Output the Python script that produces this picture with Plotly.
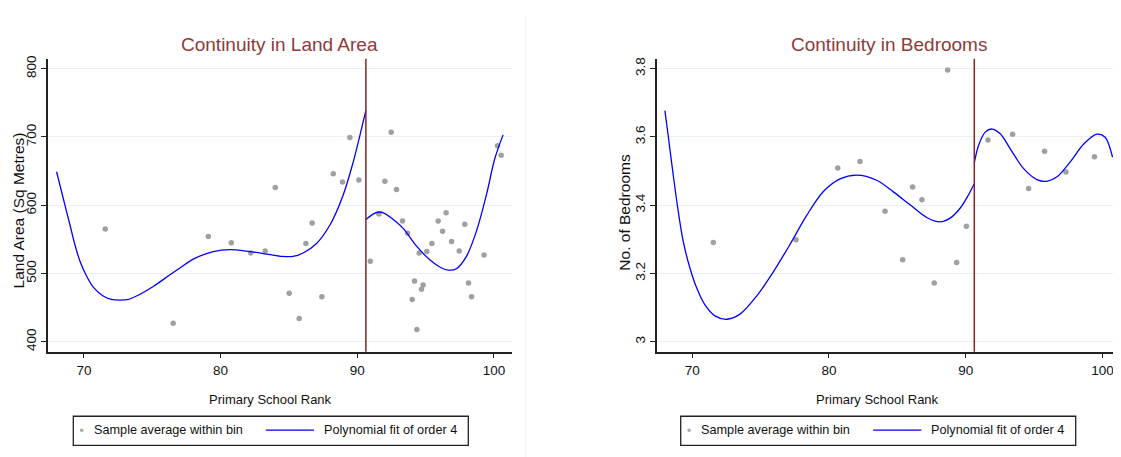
import plotly.graph_objects as go

# The page body has an 8px margin; the figure is sized to fill the rest of the window.
PAGE_W, PAGE_H, OFF = 1121, 457, 8
W, H = PAGE_W - OFF, PAGE_H - OFF
FONT = "Liberation Sans, Arial, sans-serif"

# ---------------- data: Land Area panel ----------------
land_bin_x = [71.56, 76.53, 79.10, 80.78, 82.20, 83.26, 84.00, 85.02, 85.75, 86.24,
              86.70, 87.41, 88.24, 88.92, 89.46, 90.12, 90.95, 91.58, 92.02, 92.48,
              92.87, 93.31, 93.68, 94.02, 94.19, 94.36, 94.53, 94.70, 94.82, 95.09,
              95.46, 95.92, 96.24, 96.50, 96.90, 97.46, 97.87, 98.14, 98.36, 99.28,
              100.26, 100.53]
land_bin_y = [565, 427, 554, 545, 530, 533, 626, 471, 434, 544,
              574, 466, 646, 634, 699, 637, 518, 587, 635, 707,
              623, 577, 559, 462, 489, 418, 530, 477, 483, 532,
              544, 577, 562, 589, 547, 533, 572, 486, 466, 527,
              687, 673]
land_fitL_x = [68.00, 68.61, 68.98, 69.34, 69.71, 70.20, 70.68, 71.41, 72.00, 72.63,
               73.25, 73.85, 75.07, 76.29, 77.02, 78.00, 79.46, 80.68, 82.14, 83.50,
               84.50, 85.30, 86.04, 87.02, 88.00, 88.97, 89.70, 90.19, 90.63]
land_fitL_y = [649, 600, 571, 542, 518, 496, 480, 467, 462, 461,
               462, 467, 481, 498, 508, 521, 532, 535, 532, 528,
               525, 525, 530, 544, 571, 615, 663, 702, 739]
land_fitR_x = [90.63, 91.16, 91.58, 92.00, 92.38, 93.36, 94.34, 95.31, 96.17, 96.65,
               97.26, 97.99, 98.72, 99.45, 100.06, 100.67]
land_fitR_y = [579, 587, 590, 588, 583, 566, 540, 520, 508, 505,
               507, 525, 562, 615, 668, 703]

# ---------------- data: Bedrooms panel ----------------
bed_bin_x = [71.54, 77.59, 80.64, 82.27, 84.10, 85.39, 86.12, 86.80, 87.70, 88.68,
             89.34, 90.05, 91.63, 93.43, 94.60, 95.77, 97.33, 99.42]
bed_bin_y = [3.291, 3.299, 3.509, 3.528, 3.382, 3.240, 3.453, 3.416, 3.172, 3.796,
             3.232, 3.338, 3.591, 3.608, 3.449, 3.558, 3.497, 3.542]
bed_fitL_x = [68.00, 68.24, 68.61, 68.98, 69.34, 69.83, 70.32, 70.93, 71.66, 72.52,
              73.49, 74.71, 75.93, 77.15, 78.37, 79.59, 80.81, 82.03, 83.49, 84.71,
              85.93, 87.15, 88.12, 88.86, 89.59, 90.20, 90.63]
bed_fitL_y = [3.677, 3.604, 3.488, 3.381, 3.294, 3.216, 3.158, 3.108, 3.076, 3.066,
              3.081, 3.134, 3.205, 3.285, 3.370, 3.440, 3.477, 3.488, 3.473, 3.439,
              3.401, 3.364, 3.351, 3.362, 3.391, 3.430, 3.463]
bed_fitR_x = [90.63, 90.94, 91.43, 91.92, 92.53, 93.26, 94.24, 95.21, 95.94, 96.68,
              97.65, 98.63, 99.60, 100.20, 100.74]
bed_fitR_y = [3.524, 3.575, 3.614, 3.623, 3.609, 3.565, 3.507, 3.475, 3.470, 3.483,
              3.527, 3.579, 3.608, 3.599, 3.541]

cutoff = 90.63
x_ticks = [70, 80, 90, 100]
land_ticks = [400, 500, 600, 700, 800]
bed_ticks = [3.0, 3.2, 3.4, 3.6, 3.8]
bed_tick_text = ["3", "3.2", "3.4", "3.6", "3.8"]

titles = ["Continuity in Land Area", "Continuity in Bedrooms"]
ytitles = ["Land Area (Sq Metres)", "No. of Bedrooms"]
xtitle = "Primary School Rank"
leg_points = "Sample average within bin"
leg_fit = "Polynomial fit of order 4"

# ---------------- styles ----------------
PT_COLOR = "#a0a0a0"
FIT_COLOR = "#0000ff"
CUT_COLOR = "#8b2323"
TITLE_COLOR = "#8e3a3a"
GRID_COLOR = "#e9f0f2"
TXT = "#111111"


def px(x):
    return (x - OFF) / W


def py(y):
    return 1 - (y - OFF) / H


fig = go.Figure()

panels = [
    dict(xa="x", ya="y", bx=land_bin_x, by=land_bin_y,
         fl=(land_fitL_x, land_fitL_y), fr=(land_fitR_x, land_fitR_y)),
    dict(xa="x2", ya="y2", bx=bed_bin_x, by=bed_bin_y,
         fl=(bed_fitL_x, bed_fitL_y), fr=(bed_fitR_x, bed_fitR_y)),
]

for p in panels:
    fig.add_trace(go.Scatter(x=p["bx"], y=p["by"], mode="markers", xaxis=p["xa"], yaxis=p["ya"],
                             marker=dict(color=PT_COLOR, size=5.5), name=leg_points,
                             showlegend=False))
    for fx, fy in (p["fl"], p["fr"]):
        fig.add_trace(go.Scatter(x=fx, y=fy, mode="lines", xaxis=p["xa"], yaxis=p["ya"],
                                 line=dict(color=FIT_COLOR, width=1.3, shape="spline",
                                           smoothing=0.9),
                                 name=leg_fit, showlegend=False))

# plot areas (page pixels)
L_X0, L_X1 = 48, 511.7
R_X0, R_X1 = 656.7, 1121
Y_TOP, Y_BOT = 56, 351

axis_common = dict(showline=True, linecolor="#222", linewidth=1.5, ticks="outside",
                   ticklen=5, tickcolor="#222", tickwidth=1.2, zeroline=False,
                   tickfont=dict(family=FONT, size=13.5, color=TXT))

fig.update_layout(
    width=W, height=H, margin=dict(l=0, r=0, t=0, b=0),
    paper_bgcolor="white", plot_bgcolor="white", showlegend=False,
    xaxis=dict(domain=[px(L_X0), px(L_X1)], range=[67.37, 101.3], tickvals=x_ticks,
               showgrid=False, anchor="y", **axis_common),
    yaxis=dict(domain=[py(Y_BOT), py(Y_TOP)], range=[385.4, 814.6], tickvals=land_ticks,
               showgrid=True, gridcolor=GRID_COLOR, gridwidth=1, tickangle=-90, anchor="x",
               **axis_common),
    xaxis2=dict(domain=[px(R_X0), min(px(R_X1), 1.0)], range=[67.4, 101.36], tickvals=x_ticks,
                showgrid=False, anchor="y2", **axis_common),
    yaxis2=dict(domain=[py(Y_BOT), py(Y_TOP)], range=[2.971, 3.829], tickvals=bed_ticks,
                ticktext=bed_tick_text, showgrid=True, gridcolor=GRID_COLOR, gridwidth=1,
                tickangle=-90, anchor="x2", **axis_common),
)

shapes = []
# cutoff lines
for xa, ya in (("x", "y"), ("x2", "y2")):
    shapes.append(dict(type="line", xref=xa, yref=f"{ya} domain", x0=cutoff, x1=cutoff,
                       y0=0, y1=1, line=dict(color=CUT_COLOR, width=1.5)))
# faint separator between panels
shapes.append(dict(type="line", xref="paper", yref="paper", x0=px(525.7), x1=px(525.7),
                   y0=0, y1=py(12), line=dict(color="#f0f0f0", width=1)))

anns = []
# titles
for cx, t in ((279.9, titles[0]), (888.9, titles[1])):
    anns.append(dict(x=px(cx), y=py(41.5), xref="paper", yref="paper", text=t, showarrow=False,
                     xanchor="center", yanchor="middle",
                     font=dict(family=FONT, size=19, color=TITLE_COLOR)))
# x axis titles
for cx in (270.7, 877.8):
    anns.append(dict(x=px(cx), y=py(399), xref="paper", yref="paper", text=xtitle, showarrow=False,
                     xanchor="center", yanchor="middle",
                     font=dict(family=FONT, size=13, color=TXT)))
# y axis titles
for cx, cy, t in ((18.8, 209, ytitles[0]), (625, 211, ytitles[1])):
    anns.append(dict(x=px(cx), y=py(cy), xref="paper", yref="paper", text=t, showarrow=False,
                     textangle=-90, xanchor="center", yanchor="middle",
                     font=dict(family=FONT, size=15.5, color=TXT)))

# legends (one boxed key under each panel)
LEG_Y0, LEG_Y1, LEG_YC = 416, 445.3, 430
for bx in (73.3, 680.7):
    shapes.append(dict(type="rect", xref="paper", yref="paper",
                       x0=px(bx), x1=px(bx + 395), y0=py(LEG_Y1), y1=py(LEG_Y0),
                       line=dict(color="#222", width=1.3), fillcolor="white", layer="below"))
    shapes.append(dict(type="circle", xref="paper", yref="paper",
                       x0=px(bx + 6.6), x1=px(bx + 10.2), y0=py(LEG_YC + 1.8), y1=py(LEG_YC - 1.8),
                       line=dict(width=0), fillcolor="#aaaaaa"))
    shapes.append(dict(type="line", xref="paper", yref="paper",
                       x0=px(bx + 192.5), x1=px(bx + 240.7), y0=py(LEG_YC), y1=py(LEG_YC),
                       line=dict(color=FIT_COLOR, width=1.3)))
    anns.append(dict(x=px(bx + 18.2), y=py(LEG_YC), xref="paper", yref="paper", text=leg_points,
                     showarrow=False, xanchor="left", yanchor="middle",
                     font=dict(family=FONT, size=12.7, color=TXT)))
    anns.append(dict(x=px(bx + 248.5), y=py(LEG_YC), xref="paper", yref="paper", text=leg_fit,
                     showarrow=False, xanchor="left", yanchor="middle",
                     font=dict(family=FONT, size=12.7, color=TXT)))

fig.update_layout(shapes=shapes, annotations=anns)

fig.write_html("out.html")
